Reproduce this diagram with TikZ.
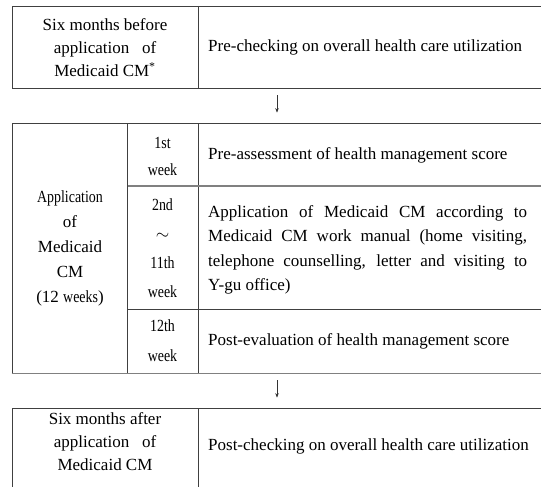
\documentclass[tikz,border=0pt]{standalone}
\usepackage{fontspec}
\setmainfont{Liberation Serif}
\newfontfamily\narrowfont[FakeStretch=0.82]{Liberation Serif}
\usetikzlibrary{arrows.meta}

\tikzset{
  txt/.style={inner sep=0pt, font=\fontsize{17}{23}\selectfont, align=center},
  boxframe/.style={draw=black!75, line width=0.8pt, inner sep=0pt},
  rule/.style={draw=black!75, line width=0.8pt},
  greyrule/.style={draw=black!50, line width=1.4pt},
  flow/.style={draw=black!80, line width=0.6pt, -{Stealth[length=4.5pt,width=3.5pt]}},
}

\begin{document}
\begin{tikzpicture}[x=1pt,y=1pt,yscale=-1,xscale=1]
    \useasboundingbox (0,0) rectangle (541,487);

    %Boxes
    \node [boxframe, minimum width=530, minimum height=82] (prebox) at (277,47) {};
    \node [boxframe, minimum width=530, minimum height=250] (appbox) at (277,248) {};
    \node [boxframe, minimum width=530, minimum height=90] (postbox) at (277,453) {};

    %Dividers
    \draw [rule] (198,6) -- (198,88) ;
    \draw [rule] (127.5,123) -- (127.5,373) ;
    \draw [rule] (198,123) -- (198,373) ;
    \draw [greyrule] (127.5,186) -- (542,186) ;
    \draw [rule] (127.5,309.5) -- (542,309.5) ;
    \draw [greyrule] (appbox.south west) -- (appbox.south east) ;
    \draw [rule] (198,408) -- (198,498) ;

    % Text Node
    \node [txt] (prewhen) at (105,48) {Six months before\\application\ \ \ of\\Medicaid CM\textsuperscript{*}};
    % Text Node
    \node [txt, anchor=west] (precheck) at (208,47) {Pre-checking on overall health care utilization};

    % Text Node
    \node [txt, font=\fontsize{17}{25}\selectfont] (appwhen) at (70,248) {{\narrowfont Application}\\of\\Medicaid\\CM\\(12 {\narrowfont weeks})};
    % Text Node
    \node [txt, font=\narrowfont\fontsize{17}{27}\selectfont] (wkone) at (162.5,156) {1st\\week};
    % Text Node
    \node [txt, font=\narrowfont\fontsize{17}{29}\selectfont] (wktwo) at (162.5,248) {2nd\\$\sim$\\11th\\week};
    % Text Node
    \node [txt, font=\narrowfont\fontsize{17}{30}\selectfont] (wklast) at (162.5,341) {12th\\week};

    % Text Node
    \node [txt, anchor=west] (preassess) at (208,155) {Pre-assessment of health management score};
    % Text Node
    \node [txt, anchor=west, text width=319, align=justify, font=\fontsize{17}{24.5}\selectfont] (apply) at (208,250)
      {Application of Medicaid CM according to\linebreak Medicaid CM work manual (home visiting,\linebreak telephone counselling, letter and visiting to\linebreak Y-gu office)};
    % Text Node
    \node [txt, anchor=west] (posteval) at (208,341) {Post-evaluation of health management score};

    % Text Node
    \node [txt] (postwhen) at (105,442) {Six months after\\application\ \ \ of\\Medicaid CM};
    % Text Node
    \node [txt, anchor=west] (postcheck) at (208,446) {Post-checking on overall health care utilization};

    %Arrows
    \draw [flow] ([yshift=7]prebox.south) -- ([yshift=-10]appbox.north) ;
    \draw [flow] ([yshift=7]appbox.south) -- ([yshift=-10]postbox.north) ;

\end{tikzpicture}
\end{document}
